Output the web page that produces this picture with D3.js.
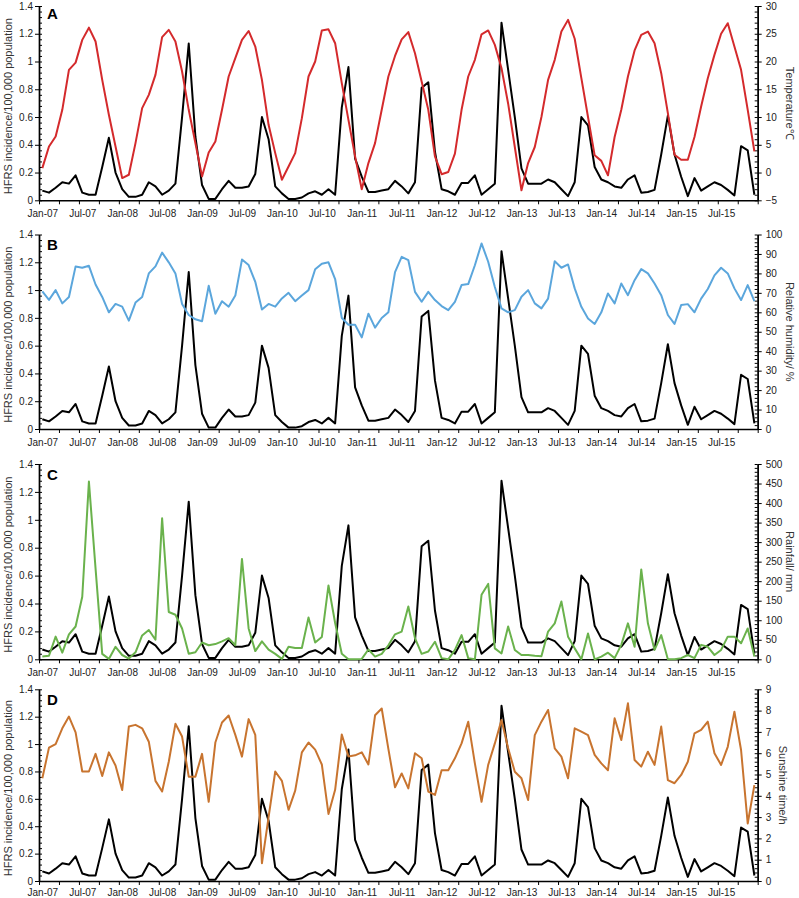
<!DOCTYPE html>
<html><head><meta charset="utf-8">
<script src="https://cdn.jsdelivr.net/npm/d3@7"></script>
<style>body{margin:0;background:#fff}svg text{font-family:"Liberation Sans",Arial,sans-serif}</style>
</head><body><svg id="c" width="799" height="898"></svg>
<script>
const yearCodes = ["07","08","09","10","11","12","13","14","15"];
const monthNames = ["Jan","Feb","Mar","Apr","May","Jun","Jul","Aug","Sep","Oct","Nov","Dec"];
const categories = [];
yearCodes.forEach(y => monthNames.forEach(m => categories.push(m + "-" + y)));
const tickLabels = ["Jan-07","Jul-07","Jan-08","Jul-08","Jan-09","Jul-09","Jan-10","Jul-10","Jan-11","Jul-11","Jan-12","Jul-12","Jan-13","Jul-13","Jan-14","Jul-14","Jan-15","Jul-15"];
const leftTicks = [0,0.2,0.4,0.6,0.8,1,1.2,1.4];

const hfrs = [0.07,0.055,0.09,0.13,0.12,0.18,0.055,0.04,0.04,0.24,0.45,0.2,
 0.08,0.025,0.025,0.04,0.13,0.1,0.04,0.07,0.12,0.6,1.13,0.46,
 0.11,0.01,0.01,0.08,0.14,0.09,0.09,0.1,0.19,0.6,0.44,0.1,
 0.05,0.01,0.01,0.02,0.05,0.065,0.04,0.08,0.04,0.67,0.96,0.3,
 0.17,0.06,0.06,0.07,0.08,0.14,0.1,0.05,0.13,0.81,0.85,0.35,
 0.08,0.065,0.04,0.125,0.125,0.18,0.04,0.08,0.12,1.28,0.94,0.6,
 0.23,0.12,0.12,0.12,0.15,0.13,0.08,0.03,0.13,0.6,0.54,0.24,
 0.15,0.13,0.1,0.09,0.15,0.18,0.055,0.06,0.075,0.33,0.61,0.33,
 0.17,0.03,0.16,0.07,0.1,0.13,0.11,0.075,0.035,0.39,0.36,0.04];

const temperature = [0.8,4.7,6.5,11.3,18.5,19.8,23.9,26.1,23.6,16.7,10.4,4.7,
 -1.0,-0.4,5.3,11.6,14,17.6,24.4,25.7,23.6,18.2,11.3,5.3,
 -0.7,3.6,5.6,11.3,17.3,20.6,23.9,25.5,22.7,16.7,8.6,3.5,
 -1.3,1.1,3.5,9.8,17.3,20,25.6,25.8,23.3,16.1,9.5,2.9,
 -3.0,1.7,5.3,11.3,17.3,21,24,25.3,21.5,16.4,11.3,2.9,
 -0.3,0.1,3.4,11.3,17.3,20.3,24.9,25.6,23,18.8,12.4,4.6,
 -3.2,1.7,4.6,10,16.7,20.3,25.4,27.5,24.1,17,10,3.1,
 2.1,-0.5,6.4,11.3,17.3,22,24.8,25.4,23.3,17.9,10.7,3.2,
 2.3,2.3,6.4,11.9,17,21.2,25,26.9,22.7,18.5,11.3,3.8];

const humidity = [70.7,66.4,71.4,64.6,67.9,83.6,82.9,83.9,74.3,67.9,60,64.3,
 62.9,55.7,65,67.9,80,83.6,90.7,85.7,80,64.3,58.6,56.4,
 55.4,73.6,59.3,65.7,62.9,68.6,87.1,84.3,75.7,61.4,64.3,62.9,
 67.1,70,65.7,68.6,71.4,82.1,85,85.7,77.1,57.1,53.6,53.6,
 47.1,59.3,52.1,57.1,60,80.7,88.5,86.8,70.5,65.4,70.5,66.3,
 63.2,61.1,65.4,74,74.5,84.2,95.4,86,73,62,60,61.1,
 68,71.4,64.6,62,67,86.3,82.9,84.6,72.3,62.8,56.8,54,
 60,69.7,64.6,74.8,68.8,76.5,82.2,80,74.8,68.8,58.6,54,
 63.7,64.2,60,67,72,79,82.9,80,72.3,66.3,74,65.8];

const rainfall = [7,9,58,17,64,84,160,455,232,14,1,32,
 11,2,18,61,75,50,361,121,114,79,14,18,
 43,36,39,46,54,36,257,79,21,46,25,14,
 1,32,29,29,107,43,57,189,93,14,0,0,
 1,25,7,14,36,64,71,135,54,14,20,45,
 3,0,24,62,3,0,165,193,28,15,84,24,
 11,11,9,8,71,92,148,58,28,0,66,0,
 7,17,3,37,92,32,230,92,24,62,0,0,
 3,11,3,37,32,11,24,58,58,41,79,7];

const sunshine = [4.82,6.26,6.43,7.17,7.72,6.98,5.14,5.14,5.97,4.93,6.04,5.42,
 4.27,7.25,7.33,7.17,6.54,4.7,4.2,5.6,7.38,6.78,4.9,4.9,
 5.97,3.72,6.5,7.44,7.77,6.86,5.84,7.6,6.86,0.83,3.0,5.14,
 4.7,3.34,4.24,6.04,6.5,6.17,5.47,3.15,4.28,6.88,5.85,5.9,
 6.04,5.47,7.78,8.1,6.2,4.4,5.05,4.35,6.0,5.76,4.2,4.04,
 5.2,5.2,5.76,6.46,7.48,5.52,3.72,5.45,6.46,7.56,6.23,5.13,
 4.82,3.8,6.85,7.48,8.03,6.23,5.84,4.82,7.17,7.01,6.85,5.92,
 5.52,5.2,7.64,6.62,8.34,5.68,5.37,6.07,5.45,7.25,4.74,4.59,
 4.98,5.6,6.93,7.09,7.48,6.0,5.45,6.3,7.95,6.15,2.7,4.5];

const panelLetters = ["A","B","C","D"];
const rightTitles = ["Temperature\u2103","Relative humidity/ %","Rainfall/ mm","Sunshine time/h"];
const rightSeries = [temperature, humidity, rainfall, sunshine];
const rightDomains = [[-5,30],[0,100],[0,500],[0,9]];
const rightSteps = [5,10,50,1];
const seriesColors = ["#d42a2c","#5ba6dc","#6ab24c","#c8742f"];

const svg = d3.select("#c");
const X0 = 39, X1 = 757.7;
const tops = [6, 234.5, 464, 689.3];
const bottoms = [200.3, 429, 659.3, 881];
const rightTitleX = [790, 790, 790, 783];
const labelPad = [10, 10, 10, 7.5];

const x = d3.scalePoint().domain(categories).range([X0, X1]).padding(0.5);
const xb = d3.scaleLinear().domain([0, categories.length]).range([X0, X1]);

function styleAxis(g) {
  g.selectAll("path.domain").attr("stroke", "#000").attr("stroke-width", 1.4);
  g.selectAll(".tick line").attr("stroke", "#000").attr("stroke-width", 1);
  g.selectAll(".tick text").attr("fill", "#222").style("font-size", "10px");
}

for (let p = 0; p < 4; p++) {
  const top = tops[p], bot = bottoms[p];
  const yL = d3.scaleLinear().domain([0, 1.4]).range([bot, top]);
  const dom = rightDomains[p], st = rightSteps[p];
  const yR = d3.scaleLinear().domain(dom).range([bot, top]);
  const g = svg.append("g");

  const leftMinor = d3.range(0, 1.4001, 0.04);
  g.append("g").attr("transform", `translate(${X0},0)`)
    .call(d3.axisRight(yL).tickValues(leftMinor).tickSize(3).tickFormat("").tickSizeOuter(0))
    .call(styleAxis);
  g.append("g").attr("transform", `translate(${X0},0)`)
    .call(d3.axisLeft(yL).tickValues(leftTicks).tickSize(4).tickPadding(2).tickSizeOuter(0)
      .tickFormat(d => d3.format("~g")(+d.toFixed(2))))
    .call(styleAxis);

  const rMinor = d3.range(dom[0], dom[1] + st / 10, st / 5);
  g.append("g").attr("transform", `translate(${X1},0)`)
    .call(d3.axisLeft(yR).tickValues(rMinor).tickSize(3).tickFormat("").tickSizeOuter(0))
    .call(styleAxis);
  g.append("g").attr("transform", `translate(${X1},0)`)
    .call(d3.axisRight(yR).tickValues(d3.range(dom[0], dom[1] + st / 10, st)).tickSize(4).tickPadding(4).tickSizeOuter(0))
    .call(styleAxis);

  g.append("g").attr("transform", `translate(0,${bot})`)
    .call(d3.axisBottom(xb).tickValues(d3.range(0, categories.length + 1, 3)).tickSize(4).tickFormat("").tickSizeOuter(0))
    .call(styleAxis);
  const lab = g.append("g").attr("transform", `translate(0,${bot})`)
    .call(d3.axisBottom(x).tickValues(tickLabels).tickSize(0).tickPadding(labelPad[p]))
    .call(styleAxis);
  lab.select("path.domain").remove();

  const lineL = d3.line().x((d, i) => x(categories[i])).y(d => yL(d));
  const lineR = d3.line().x((d, i) => x(categories[i])).y(d => yR(d));
  g.append("path").datum(hfrs).attr("d", lineL).attr("fill", "none")
    .attr("stroke", "#000").attr("stroke-width", 2).attr("stroke-linejoin", "round");
  g.append("path").datum(rightSeries[p]).attr("d", lineR).attr("fill", "none")
    .attr("stroke", seriesColors[p]).attr("stroke-width", 2).attr("stroke-linejoin", "round");

  g.append("text").attr("x", 47).attr("y", top + (p === 0 ? 13 : 15.5))
    .style("font-size", "15px").style("font-weight", "bold").attr("fill", "#000")
    .text(panelLetters[p]);

  const cy = (top + bot) / 2;
  g.append("text").attr("transform", `translate(8,${cy + 3}) rotate(-90)`)
    .attr("text-anchor", "middle").attr("dominant-baseline", "central")
    .style("font-size", "11px").attr("fill", "#333")
    .text("HFRS incidence/100,000 population");
  g.append("text").attr("transform", `translate(${rightTitleX[p]},${cy}) rotate(90)`)
    .attr("text-anchor", "middle").attr("dominant-baseline", "central")
    .style("font-size", "11px").attr("fill", "#333")
    .text(rightTitles[p]);
}
</script></body></html>
